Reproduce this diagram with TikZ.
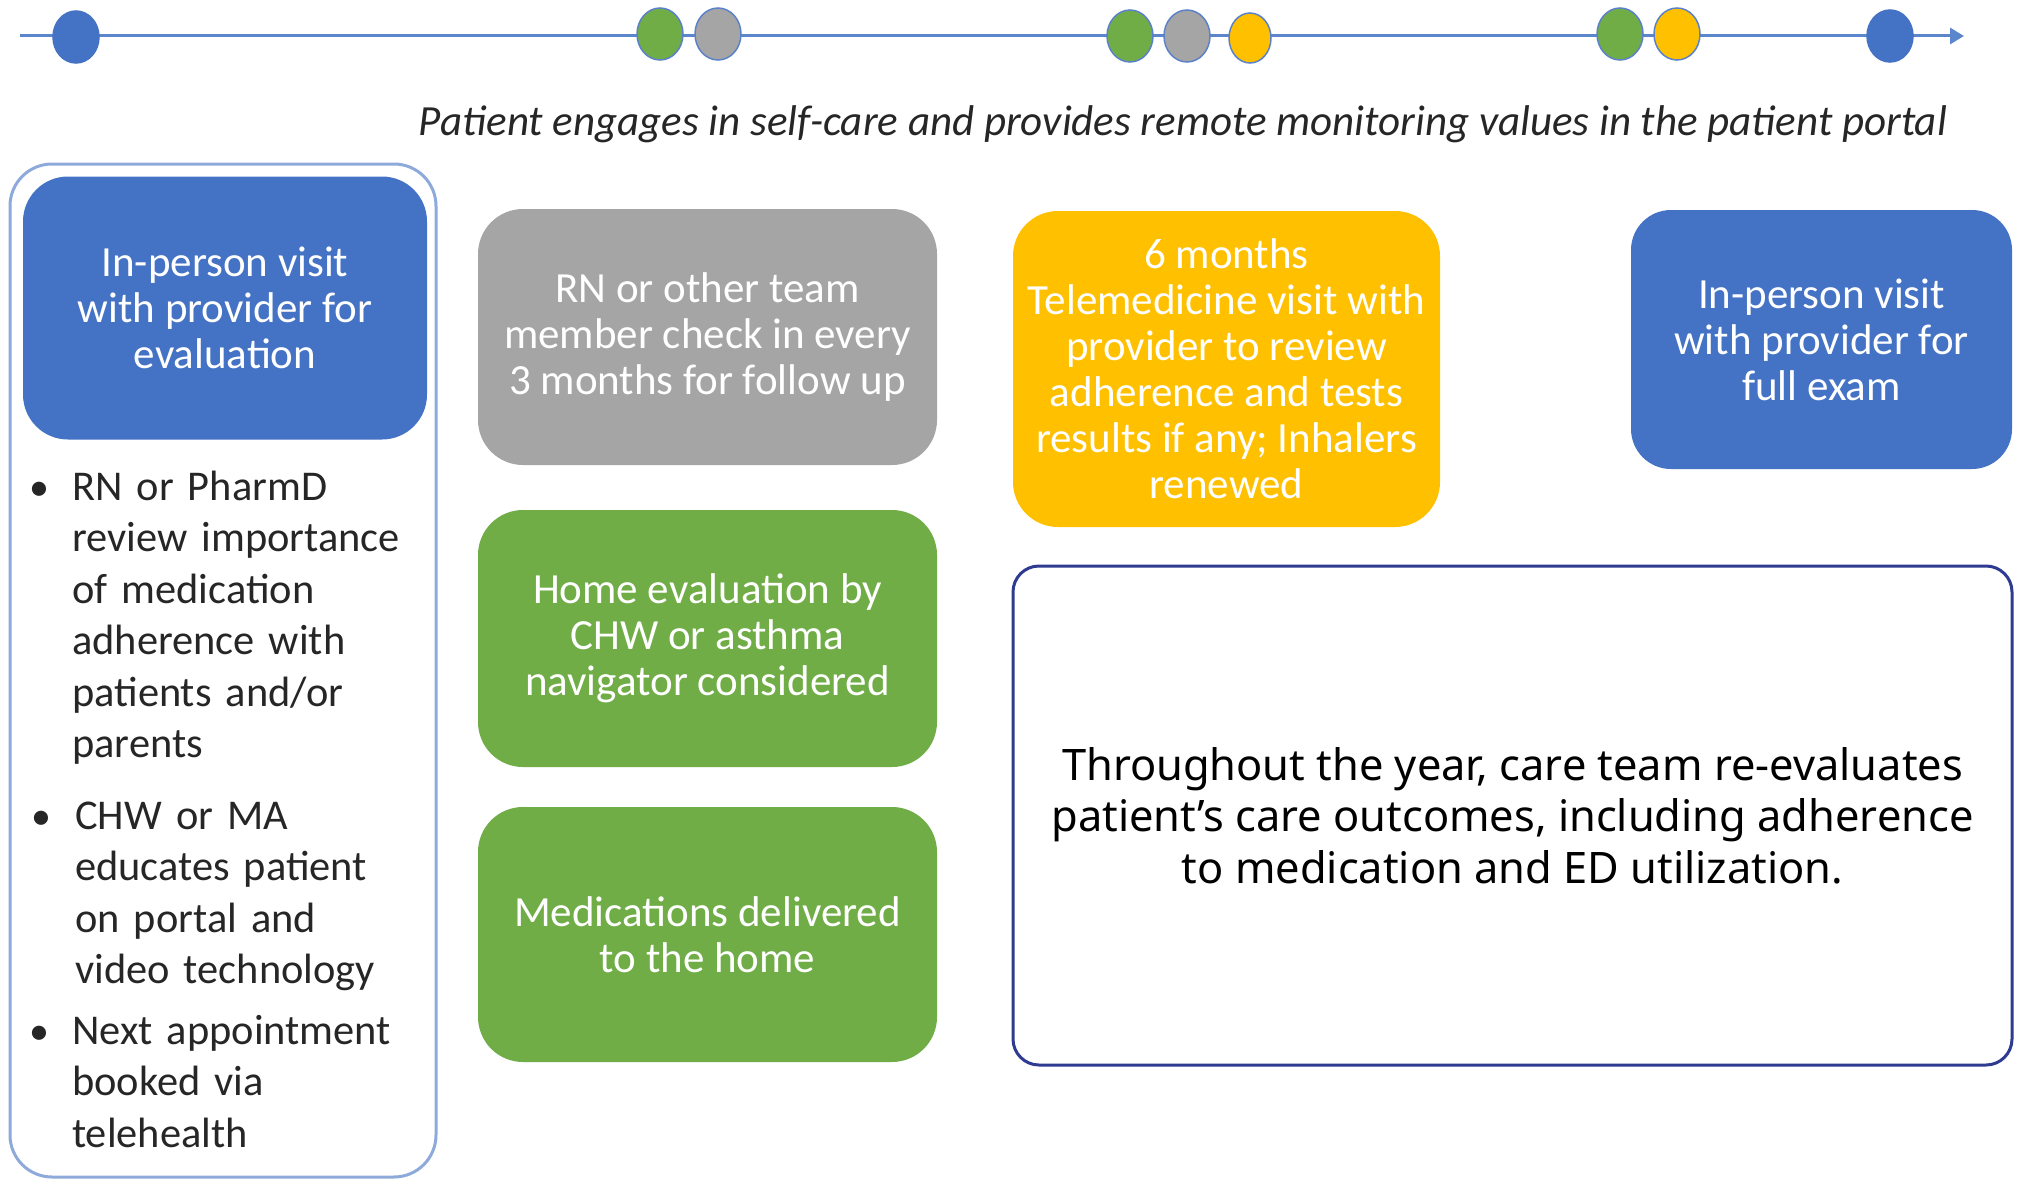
\documentclass[tikz,border=0pt]{standalone}
\usepackage{fontspec}
\setmainfont{Carlito}
\newfontfamily\notofont{Noto Sans}
\usetikzlibrary{arrows.meta,shapes.geometric}
\definecolor{cblue}{HTML}{4472C4}
\definecolor{cgreen}{HTML}{70AD47}
\definecolor{cgrey}{HTML}{A5A5A5}
\definecolor{cyellow}{HTML}{FFC000}
\definecolor{ring}{HTML}{5B82C8}
\definecolor{lineblue}{HTML}{5B86CC}
\definecolor{outerblue}{HTML}{8EAADB}
\definecolor{navy}{HTML}{2F3B91}
\definecolor{txt}{HTML}{262626}
\begin{document}
\begin{tikzpicture}[x=1pt,y=-1pt,
  dot/.style={ellipse, draw=ring, line width=1.5pt, minimum width=46pt, minimum height=52pt, inner sep=0pt},
  card/.style={rectangle, rounded corners=45pt, inner sep=0pt, font=\fontsize{43}{46}\selectfont, text=white, align=center},
  bullettext/.style={font=\fontsize{42.4}{51.5}\selectfont, text=txt, align=left, anchor=base west, inner sep=0pt, text width=360pt},
  bulletmark/.style={font=\fontsize{40}{51.5}\selectfont, text=txt, anchor=base, inner sep=0pt},
]
\useasboundingbox (0,0) rectangle (2021,1180);
\fill[white] (0,0) rectangle (2021,1180);

% timeline
\coordinate (tl0) at (20,36);
\coordinate (tl1) at (1964,36);
\draw[lineblue, line width=3pt, -{Triangle[length=14pt,width=16pt]}] (tl0) -- (tl1);
\node[dot, fill=cblue, draw=cblue] (d1) at (76,37) {};
\node[dot, fill=cgreen] (d2) at (660,34) {};
\node[dot, fill=cgrey] (d3) at (718,34) {};
\node[dot, fill=cgreen] (d4) at (1130,36) {};
\node[dot, fill=cgrey] (d5) at (1187,36) {};
\node[dot, fill=cyellow, minimum width=42pt, minimum height=50pt] (d6) at (1250,38) {};
\node[dot, fill=cgreen] (d7) at (1620,34) {};
\node[dot, fill=cyellow] (d8) at (1677,34) {};
\node[dot, fill=cblue, draw=cblue] (d9) at (1890,36) {};

\node[font=\itshape\fontsize{43}{48}\selectfont, text=txt, inner sep=0pt] (caption) at (1183,124)
  {Patient engages in self-care and provides remote monitoring values in the patient portal};

% left column
\node[draw=outerblue, line width=3pt, rounded corners=42pt, minimum width=426pt, minimum height=1013pt, inner sep=0pt] (outer) at (223,670.5) {};
\node[card, fill=cblue, minimum width=404pt, minimum height=263pt] (evalbox) at (225,308)
  {In-person visit\\with provider for\\evaluation};

\node[bulletmark] (m1) at (39,500) {•};
\node[bullettext] (b1) at (72,500) {RN or PharmD\\review importance\\of medication\\adherence with\\patients and/or\\parents};
\node[bulletmark] (m2) at (41,829) {•};
\node[bullettext] (b2) at (75,829) {CHW or MA\\educates patient\\on portal and\\video technology};
\node[bulletmark] (m3) at (39,1044) {•};
\node[bullettext] (b3) at (72,1044) {Next appointment\\booked via\\telehealth};

% middle column
\node[card, fill=cgrey, minimum width=459pt, minimum height=256pt] (checkin) at (707.5,337)
  {RN or other team\\member check in every\\3 months for follow up};
\node[card, fill=cgreen, minimum width=459pt, minimum height=257pt] (homeeval) at (707.5,638.5)
  {Home evaluation by\\CHW or asthma\\navigator considered};
\node[card, fill=cgreen, minimum width=459pt, minimum height=255pt] (meds) at (707.5,934.5)
  {Medications delivered\\to the home};

% right
\node[card, fill=cyellow, minimum width=427pt, minimum height=316pt] (tele) at (1226.5,369)
  {6 months\\Telemedicine visit with\\provider to review\\adherence and tests\\results if any; Inhalers\\renewed};
\node[card, fill=cblue, rounded corners=40pt, minimum width=381pt, minimum height=259pt] (fullexam) at (1821.5,339.5)
  {In-person visit\\with provider for\\full exam};

\node[draw=navy, fill=white, line width=3pt, rounded corners=26pt, minimum width=999pt, minimum height=499pt, inner sep=0pt,
  font=\notofont\fontsize{43.4}{51.5}\selectfont, text=black, align=center] (review) at (1512.5,815.5)
  {Throughout the year, care team re-evaluates\\patient’s care outcomes, including adherence\\to medication and ED utilization.};
\end{tikzpicture}
\end{document}
